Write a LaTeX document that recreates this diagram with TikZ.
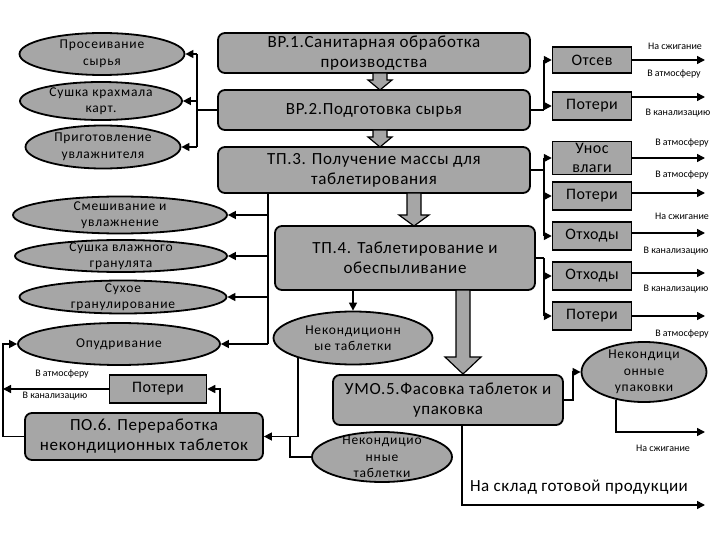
\documentclass[tikz,border=0pt]{standalone}
\usepackage{fontspec}
\setmainfont{Carlito}
\usepackage{xcolor}
\usetikzlibrary{shapes.geometric,arrows.meta,positioning}
\definecolor{boxgray}{RGB}{166,166,166}

\tikzset{
	stage/.style={draw,line width=1.8pt,rounded corners=7pt,fill=boxgray,align=center,inner sep=0pt,font=\fontsize{17}{20}\selectfont\addfontfeature{LetterSpace=4}},
	waste/.style={draw,line width=1.5pt,fill=boxgray,align=center,inner sep=0pt,font=\fontsize{16}{19}\selectfont\addfontfeature{LetterSpace=3},minimum width=79pt,minimum height=28pt},
	oper/.style={ellipse,draw,line width=1.8pt,fill=boxgray,align=center,inner xsep=0pt,inner ysep=-6pt,font=\fontsize{13.5}{16.5}\selectfont\addfontfeature{LetterSpace=6}},
	lbl/.style={inner sep=0pt,font=\fontsize{10}{11}\selectfont},
	flow/.style={line width=1.5pt,-{Triangle[length=8pt,width=8pt]}},
	line/.style={line width=1.5pt},
	wide/.style={draw,line width=1.2pt,fill=boxgray,line join=miter}
}

\begin{document}
\begin{tikzpicture}[x=1pt,y=-1pt]
	\useasboundingbox (0,0) rectangle (720,540);
	% stages
	\node[stage,minimum width=312pt,minimum height=40pt] (vr1) at (374,53) {ВР.1.Санитарная обработка\\производства};
	\node[stage,minimum width=312pt,minimum height=40pt] (vr2) at (374,110) {ВР.2.Подготовка сырья};
	\node[stage,minimum width=312pt,minimum height=46pt] (tp3) at (374,170) {ТП.3. Получение массы для\\таблетирования};
	\node[stage,minimum width=260pt,minimum height=64pt] (tp4) at (405,258) {ТП.4. Таблетирование и\\обеспыливание};
	\node[stage,minimum width=230pt,minimum height=50pt] (umo5) at (448,400) {УМО.5.Фасовка таблеток и\\упаковка};
	\node[stage,minimum width=238pt,minimum height=47pt] (po6) at (144,436.5) {ПО.6. Переработка\\некондиционных таблеток};
	% operations
	\node[oper,minimum width=165pt,minimum height=42pt] (e1) at (102,54) {Просеивание\\сырья};
	\node[oper,minimum width=162pt,minimum height=38pt] (e2) at (101,101) {Сушка крахмала\\карт.};
	\node[oper,minimum width=155pt,minimum height=43pt] (e3) at (103,147) {Приготовление\\увлажнителя};
	\node[oper,minimum width=214pt,minimum height=37pt] (e4) at (120,215) {Смешивание и\\увлажнение};
	\node[oper,minimum width=212pt,minimum height=32pt] (e5) at (121,256) {Сушка влажного\\гранулята};
	\node[oper,minimum width=207pt,minimum height=33pt] (e6) at (123,297) {Сухое\\гранулирование};
	\node[oper,minimum width=202pt,minimum height=42pt] (e7) at (119,344) {Опудривание};
	\node[oper,minimum width=159pt,minimum height=53pt] (e8) at (353,338) {Некондиционн\\ые таблетки};
	\node[oper,minimum width=140pt,minimum height=50pt] (e9) at (382,457) {Некондицио\\нные\\таблетки};
	\node[oper,minimum width=125pt,minimum height=60pt] (e10) at (644,372) {Некондици\\онные\\упаковки};
	% wastes
	\node[waste,minimum height=26pt] (otsev) at (592,60) {Отсев};
	\node[waste] (los1) at (592,106) {Потери};
	\node[waste,minimum height=33pt] (unos) at (592,158) {Унос\\влаги};
	\node[waste] (los2) at (592,196) {Потери};
	\node[waste] (otx1) at (592,236) {Отходы};
	\node[waste] (otx2) at (592,276) {Отходы};
	\node[waste] (los3) at (592,316) {Потери};
	\node[waste,minimum width=97pt] (los6) at (158,389) {Потери};
	
	% wide arrows
	\draw[wide] (373,73) -- (387,73) -- (387,80) -- (392,80) -- (380,90) -- (368,80) -- (373,80) -- cycle;
	\draw[wide] (373,130) -- (387,130) -- (387,137) -- (392,137) -- (380,147) -- (368,137) -- (373,137) -- cycle;
	\draw[wide] (407,193) -- (421,193) -- (421,215) -- (429,215) -- (414,226) -- (399,215) -- (407,215) -- cycle;
	\draw[wide] (456,290) -- (470,290) -- (470,357) -- (481,357) -- (463,374) -- (445,357) -- (456,357) -- cycle;
	
	% left side
	\draw[line] (vr2.west) -- ++(-20,0) coordinate (b1);
	\draw[line] (b1 |- e1.east) -- (b1 |- e3.east);
	\draw[flow] (b1 |- e1.east) -- (e1.east);
	\draw[flow] (b1 |- e2.east) -- (e2.east);
	\draw[flow] (b1 |- e3.east) -- (e3.east);
	\draw[line] ([xshift=-106pt]tp3.south) coordinate (b2) -- (b2 |- e7.east);
	\draw[flow] (b2 |- e4.east) -- (e4.east);
	\draw[flow] (b2 |- e5.east) -- (e5.east);
	\draw[flow] (b2 |- e6.east) -- (e6.east);
	\draw[flow] (b2 |- e7.east) -- (e7.east);
	
	% right side
	\draw[line] (vr2.east) -- ++(13,0) coordinate (b3);
	\draw[line] (b3 |- otsev.west) -- (b3);
	\draw[flow] (b3 |- otsev.west) -- (otsev.west);
	\draw[flow] (b3 |- los1.west) -- (los1.west);
	\draw[line] (tp3.east) -- ++(13,0) coordinate (b4);
	\draw[line] (b4 |- unos.west) -- (b4 |- otx1.west);
	\draw[flow] (b4 |- unos.west) -- (unos.west);
	\draw[flow] (b4 |- los2.west) -- (los2.west);
	\draw[flow] (b4 |- otx1.west) -- (otx1.west);
	\draw[line] (tp4.east) -- ++(8,0) coordinate (b5);
	\draw[line] (b5) -- (b5 |- los3.west);
	\draw[flow] (b5 |- otx2.west) -- (otx2.west);
	\draw[flow] (b5 |- los3.west) -- (los3.west);
	
	\coordinate (xr) at (705,0);
	\coordinate (xl) at (3,0);
	\coordinate (burn) at (705,432);
	\coordinate (store) at (705,505);
	\draw[flow] (otsev.east) -- (otsev.east -| xr);
	\draw[flow] ([yshift=9pt]los1.east) coordinate (s1) -- (s1 -| xr);
	\draw[flow] (unos.east) -- (unos.east -| xr);
	\draw[flow] ([yshift=3pt]los2.east) coordinate (s2) -- (s2 -| xr);
	\draw[flow] ([yshift=3pt]otx1.east) coordinate (s3) -- (s3 -| xr);
	\draw[flow] ([yshift=3pt]otx2.east) coordinate (s4) -- (s4 -| xr);
	\draw[flow] (los3.east) -- (los3.east -| xr);
	
	% packing and rework
	\draw[flow] (tp4.south -| e8.north) -- (e8.north);
	\draw[flow] (umo5.east) -- ++(9,0) |- (e10.west);
	\draw[flow] (e10.225) |- (burn);
	\draw[flow] ([xshift=14pt]umo5.south) |- (store);
	\draw[flow] (e8.200) |- (po6.east);
	\draw[line] (e9.west) -| ([xshift=26pt]po6.east);
	\draw[flow] ([xshift=76pt]po6.north) |- (los6.east);
	\draw[flow] (los6.west) -- (los6.west -| xl);
	\draw[flow] (po6.west) -| (xl |- e7.west) -- (e7.west);
	
	% labels
	\node[lbl] at (675,46) {На сжигание};
	\node[lbl] at (674,74) {В атмосферу};
	\node[lbl] at (678,113) {В канализацию};
	\node[lbl] at (682,143) {В атмосферу};
	\node[lbl] at (682,175) {В атмосферу};
	\node[lbl] at (682,216) {На сжигание};
	\node[lbl] at (676,251) {В канализацию};
	\node[lbl] at (676,289) {В канализацию};
	\node[lbl] at (682,334) {В атмосферу};
	\node[lbl] at (663,448) {На сжигание};
	\node[lbl] at (62,374) {В атмосферу};
	\node[lbl] at (55,396) {В канализацию};
	\node[font=\fontsize{17}{19}\selectfont\addfontfeature{LetterSpace=3}] at (579,487) {На склад готовой продукции};
\end{tikzpicture}
\end{document}
